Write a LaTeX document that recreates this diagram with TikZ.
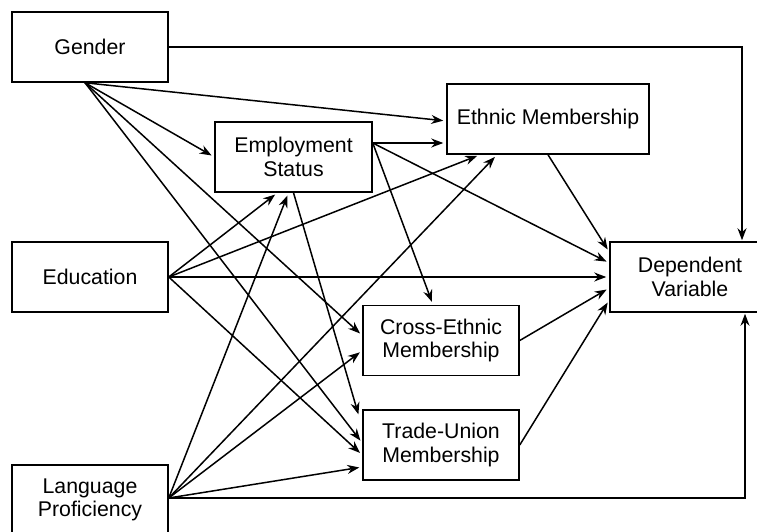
\documentclass[tikz,border=0pt]{standalone}
\usepackage{fontspec}
\setmainfont{Liberation Sans}
\usetikzlibrary{arrows.meta}

\begin{document}
\begin{tikzpicture}[x=1pt, y=-1pt,
    box/.style={draw, line width=1.5pt, minimum width=156pt, minimum height=70pt,
        inner sep=0pt, align=center, font=\fontsize{21.3}{23.5}\selectfont},
    arr/.style={-{Stealth[length=12pt, width=9pt]}, line width=1.5pt, shorten >=3pt}]
    \useasboundingbox (0,0) rectangle (757,532);

    \node[box] (gender) at (90,47) {Gender};
    \node[box] (educ) at (90,277) {Education};
    \node[box] (lang) at (90,500) {Language\\Proficiency};
    \node[box, minimum width=157pt] (emp) at (293.5,157) {Employment\\Status};
    \node[box, minimum width=202pt] (ethnic) at (548,119) {Ethnic Membership};
    \node[box] (cross) at (441,340.5) {Cross-Ethnic\\Membership};
    \node[box] (trade) at (441,445) {Trade-Union\\Membership};
    \node[box, minimum width=160pt] (dep) at (690,277) {Dependent\\Variable};

    % ports
    \coordinate (gsrc) at ([xshift=-5pt]gender.south);
    \coordinate (lsrc) at ([yshift=2pt]lang.east);
    \coordinate (empR) at ([yshift=14pt]emp.east);
    \coordinate (ethA) at ([yshift=-2pt]ethnic.west);
    \coordinate (ethB) at (empR -| ethnic.west);
    \coordinate (empB1) at ([xshift=-16pt]emp.south);
    \coordinate (empB2) at ([xshift=-5pt]emp.south);
    \coordinate (ethB1) at ([xshift=-68pt]ethnic.south);
    \coordinate (ethB2) at ([xshift=-51pt]ethnic.south);
    \coordinate (crossA) at ([yshift=5pt]cross.west);
    \coordinate (crossB) at ([yshift=-10pt]cross.west);
    \coordinate (crossT) at ([xshift=-8pt]cross.north);
    \coordinate (tradeT) at ([shift={(-3pt,-8pt)}]trade.north west);
    \coordinate (tradeA) at ([yshift=2pt]trade.west);
    \coordinate (tradeB) at ([yshift=-10pt]trade.west);
    \coordinate (tradeC) at ([yshift=-22pt]trade.west);
    \coordinate (depA) at ([yshift=25pt]dep.west);
    \coordinate (depB) at ([yshift=14pt]dep.west);
    \coordinate (depD) at ([yshift=-11pt]dep.west);
    \coordinate (depE) at ([yshift=-23pt]dep.west);

    \foreach \a/\b in {gsrc/emp.west, gsrc/ethA, gsrc/crossA, gsrc/tradeA,
        educ.east/empB1, educ.east/ethB1, educ.east/dep.west, educ.east/tradeB,
        lsrc/empB2, lsrc/ethB2, lsrc/crossB, lsrc/tradeC,
        empR/ethB, empR/depB, empR/crossT, emp.south/tradeT,
        ethnic.south/depA, cross.east/depD, trade.east/depE}
        \draw[arr] (\a) -- (\b);

    % long routes round the outside
    \draw[arr, shorten >=1pt] (gender.east) -| ([xshift=52pt]dep.north);
    \draw[arr, shorten >=1pt] (lsrc) -| ([xshift=55pt]dep.south);
\end{tikzpicture}
\end{document}
